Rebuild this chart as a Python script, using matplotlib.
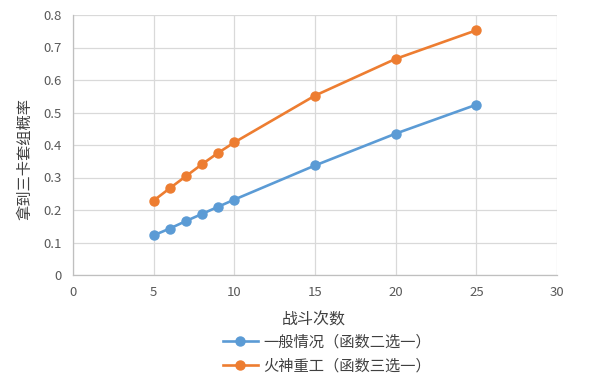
import matplotlib
matplotlib.use("Agg")
import matplotlib.pyplot as plt

plt.rcParams['font.family'] = ['Noto Sans CJK SC', 'DejaVu Sans']

battles = [5, 6, 7, 8, 9, 10, 15, 20, 25]
normal = [0.122, 0.143, 0.166, 0.188, 0.210, 0.232, 0.337, 0.435, 0.524]
vulcan = [0.229, 0.267, 0.304, 0.341, 0.376, 0.408, 0.552, 0.665, 0.753]
series_names = ["一般情况（函数二选一）", "火神重工（函数三选一）"]
x_ticks = [0, 5, 10, 15, 20, 25, 30]
y_ticks = [0, 0.1, 0.2, 0.3, 0.4, 0.5, 0.6, 0.7, 0.8]
y_tick_labels = ["0", "0.1", "0.2", "0.3", "0.4", "0.5", "0.6", "0.7", "0.8"]

fig = plt.figure(figsize=(5.96, 3.86), dpi=100)
ax = fig.add_axes([73/596, 1-275/386, (557-73)/596, (275-15)/386])

blue = "#5B9BD5"
orange = "#ED7D31"
l1, = ax.plot(battles, normal, color=blue, lw=1.9, marker="o", ms=6.5, label=series_names[0])
l2, = ax.plot(battles, vulcan, color=orange, lw=1.9, marker="o", ms=6.5, label=series_names[1])

ax.set_xlim(0, 30)
ax.set_ylim(0, 0.8)
ax.set_xticks(x_ticks)
ax.set_yticks(y_ticks)
ax.set_yticklabels(y_tick_labels)
ax.grid(True, color="#D9D9D9", lw=0.9)
ax.set_axisbelow(True)
for s in ["top", "right"]:
    ax.spines[s].set_visible(False)
for s in ["left", "bottom"]:
    ax.spines[s].set_color("#BFBFBF")
    ax.spines[s].set_linewidth(0.9)
ax.tick_params(length=0, colors="#595959", labelsize=9.5, pad=8)

ax.set_xlabel("战斗次数", fontsize=11.5, color="#404040", va="center")
ax.xaxis.set_label_coords((314-73)/484, (275-320)/260)
ax.set_ylabel("拿到三卡套组概率", fontsize=11, color="#404040", va="center")
ax.yaxis.set_label_coords((25-73)/484, (275-159)/260)

fig.legend(handles=[l1, l2], loc="center", bbox_to_anchor=(327/596, 1-354/386),
           frameon=False, fontsize=11, handlelength=2.3, labelspacing=0.42,
           labelcolor="#404040", handletextpad=0.35, borderpad=0)

fig.savefig("out.png", dpi=100)
